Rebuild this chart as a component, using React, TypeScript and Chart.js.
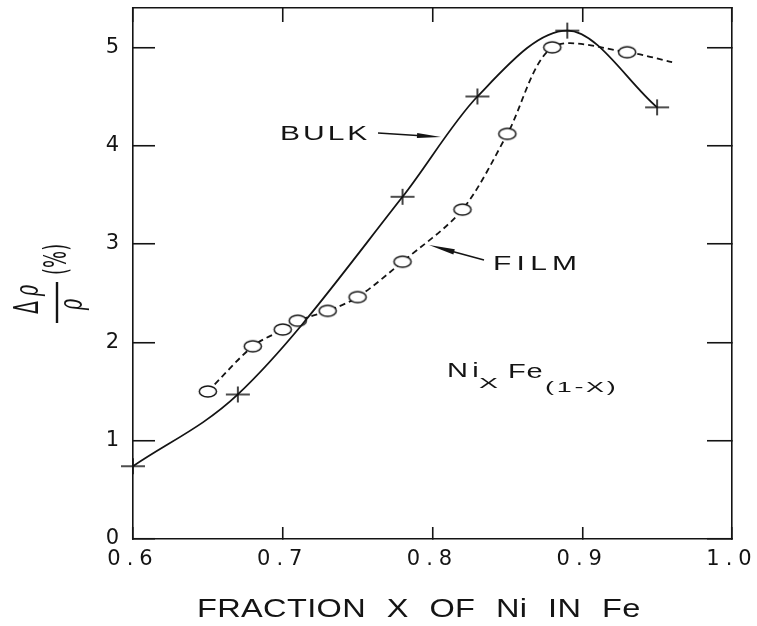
import { useEffect, useRef } from 'react';
import { Chart, registerables } from 'chart.js';

Chart.register(...registerables);

// Magnetoresistance of Ni(x)Fe(1-x): bulk samples vs. thin films
const BULK_X = [0.6, 0.67, 0.78, 0.83, 0.89, 0.95];
const BULK_Y = [0.74, 1.47, 3.48, 4.5, 5.17, 4.39];

const FILM_X = [0.65, 0.68, 0.7, 0.71, 0.73, 0.75, 0.78, 0.82, 0.85, 0.88, 0.93, 0.96];
const FILM_Y = [1.5, 1.96, 2.13, 2.22, 2.32, 2.46, 2.82, 3.35, 4.12, 5.0, 4.95, 4.85];
// the last film value is the end of the dashed trend line, without a marker
const FILM_MARKED = [true, true, true, true, true, true, true, true, true, true, true, false];

const X_TICKS = [0.6, 0.7, 0.8, 0.9, 1.0];
const X_TICK_LABELS = ['0.6', '0.7', '0.8', '0.9', '1.0'];
const Y_TICKS = [0, 1, 2, 3, 4, 5];
const Y_TICK_LABELS = ['0', '1', '2', '3', '4', '5'];

const X_MIN = 0.6;
const X_MAX = 1.0;
const Y_MIN = 0;
const Y_MAX = 5.4;

const INK = '#141414';
const SANS = '"Liberation Sans", Arial, sans-serif';

function makeCross(): HTMLCanvasElement {
  const c = document.createElement('canvas');
  c.width = 26;
  c.height = 18;
  const g = c.getContext('2d')!;
  g.strokeStyle = INK;
  g.lineWidth = 1.6;
  g.beginPath();
  g.moveTo(1, 9);
  g.lineTo(25, 9);
  g.moveTo(13, 1);
  g.lineTo(13, 17);
  g.stroke();
  return c;
}

function makeRing(): HTMLCanvasElement {
  const c = document.createElement('canvas');
  c.width = 22;
  c.height = 15;
  const g = c.getContext('2d')!;
  g.fillStyle = '#ffffff';
  g.strokeStyle = INK;
  g.lineWidth = 1.5;
  g.beginPath();
  g.ellipse(11, 7.5, 8.6, 5.6, 0, 0, Math.PI * 2);
  g.fill();
  g.stroke();
  return c;
}

function stretchText(
  ctx: CanvasRenderingContext2D,
  text: string,
  x: number,
  y: number,
  size: number,
  sx: number,
  spacing: number,
  wordSpacing = 0,
) {
  ctx.save();
  ctx.translate(x, y);
  ctx.scale(sx, 1);
  ctx.font = `${size}px ${SANS}`;
  (ctx as any).letterSpacing = `${spacing}px`;
  (ctx as any).wordSpacing = `${wordSpacing}px`;
  ctx.fillStyle = INK;
  ctx.textAlign = 'left';
  ctx.textBaseline = 'alphabetic';
  ctx.fillText(text, 0, 0);
  ctx.restore();
}

function arrow(
  ctx: CanvasRenderingContext2D,
  x1: number,
  y1: number,
  x2: number,
  y2: number,
  headLen: number,
  headHalf: number,
) {
  const a = Math.atan2(y2 - y1, x2 - x1);
  const c = Math.cos(a);
  const s = Math.sin(a);
  ctx.save();
  ctx.strokeStyle = INK;
  ctx.fillStyle = INK;
  ctx.lineWidth = 1.5;
  ctx.beginPath();
  ctx.moveTo(x1, y1);
  ctx.lineTo(x2 - c * headLen * 0.5, y2 - s * headLen * 0.5);
  ctx.stroke();
  ctx.beginPath();
  ctx.moveTo(x2, y2);
  ctx.lineTo(x2 - c * headLen - s * headHalf, y2 - s * headLen + c * headHalf);
  ctx.lineTo(x2 - c * headLen + s * headHalf, y2 - s * headLen - c * headHalf);
  ctx.closePath();
  ctx.fill();
  ctx.restore();
}

const figureInk = {
  id: 'figureInk',
  beforeDraw(chart: Chart) {
    // wide typewriter-like spacing for the tick numbers
    (chart.ctx as any).letterSpacing = '6px';
  },
  beforeDatasetsDraw(chart: Chart) {
    (chart.ctx as any).letterSpacing = '0px';
  },
  afterDraw(chart: Chart) {
    const ctx = chart.ctx;

    // y-axis title: Δρ/ρ (%) written sideways
    ctx.save();
    ctx.strokeStyle = INK;
    ctx.fillStyle = INK;
    ctx.lineWidth = 2.4;
    ctx.beginPath();
    ctx.moveTo(57, 282);
    ctx.lineTo(57, 323);
    ctx.stroke();
    ctx.translate(57, 302);
    ctx.rotate(-Math.PI / 2);
    ctx.scale(1, 1.8);
    ctx.textAlign = 'left';
    ctx.textBaseline = 'alphabetic';
    ctx.font = '19px "DejaVu Sans"';
    ctx.fillText('Δ', -12, -10.6);
    ctx.font = 'italic 19px "DejaVu Serif"';
    ctx.fillText('ρ', 6, -10.6);
    ctx.fillText('ρ', -8, 14);
    ctx.font = '18px "DejaVu Sans"';
    ctx.textBaseline = 'middle';
    ctx.fillText('(%)', 27, 0.5);
    ctx.restore();

    // x-axis title
    stretchText(ctx, 'FRACTION X OF Ni IN Fe', 197, 617, 26, 1.25, 0.3, 9);

    // curve labels
    stretchText(ctx, 'BULK', 280, 140, 20, 1.5, 2);
    arrow(ctx, 378, 133, 441, 137, 24, 2.6);

    stretchText(ctx, 'FILM', 493, 270, 20, 1.5, 3.5);
    arrow(ctx, 484, 260, 429, 245, 26, 2.8);

    // composition label Ni_X Fe_(1-X)
    stretchText(ctx, 'Ni', 447, 377, 20, 1.45, 3);
    stretchText(ctx, 'X', 479, 388, 15, 1.9, 0);
    stretchText(ctx, 'Fe', 508, 378, 20, 1.45, 0.5);
    stretchText(ctx, '(1-X)', 545, 392, 15, 1.8, 1.5);
  },
};

function fixBox(width?: number, height?: number) {
  return (s: any) => {
    if (width !== undefined) s.width = width;
    if (height !== undefined) s.height = height;
    s.paddingLeft = 0;
    s.paddingRight = 0;
    s.paddingTop = 0;
    s.paddingBottom = 0;
  };
}

const setTicks = (values: number[]) => (s: any) => {
  s.ticks = values.map((value) => ({ value }));
};

const frameGrid = (tickLength: number) => ({
  drawOnChartArea: false,
  drawTicks: true,
  tickLength,
  color: INK,
  lineWidth: 1.5,
  tickWidth: 1.6,
});

const frameBorder = { display: true, color: INK, width: 1.6 };

const tickFont = { family: '"DejaVu Sans", sans-serif', size: 21 };

export default function App() {
  const canvasRef = useRef<HTMLCanvasElement>(null);

  useEffect(() => {
    const cross = makeCross();
    const ring = makeRing();

    const chart = new Chart(canvasRef.current!, {
      type: 'line',
      data: {
        datasets: [
          {
            label: 'BULK',
            data: BULK_X.map((x, i) => ({ x, y: BULK_Y[i] })),
            borderColor: INK,
            borderWidth: 1.8,
            cubicInterpolationMode: 'monotone',
            fill: false,
            pointStyle: cross,
            pointRadius: 6,
            clip: false,
            xAxisID: 'x',
            yAxisID: 'y',
          },
          {
            label: 'FILM',
            data: FILM_X.map((x, i) => ({ x, y: FILM_Y[i] })),
            borderColor: INK,
            borderWidth: 1.8,
            borderDash: [6, 4],
            tension: 0.3,
            fill: false,
            pointStyle: ring,
            pointRadius: (c: any) => (FILM_MARKED[c.dataIndex] ? 6 : 0),
            clip: false,
            xAxisID: 'x',
            yAxisID: 'y',
          },
        ],
      },
      options: {
        animation: false,
        responsive: true,
        maintainAspectRatio: false,
        layout: { padding: 0 },
        plugins: {
          legend: { display: false },
          tooltip: { enabled: false },
          title: { display: false },
        },
        scales: {
          x: {
            type: 'linear',
            axis: 'x',
            position: 'bottom',
            min: X_MIN,
            max: X_MAX,
            afterBuildTicks: setTicks(X_TICKS),
            afterFit: fixBox(undefined, 87),
            ticks: {
              callback: (_v: any, i: number) => X_TICK_LABELS[i],
              font: tickFont,
              color: INK,
              padding: 20,
              autoSkip: false,
              maxRotation: 0,
            },
            grid: frameGrid(-12),
            border: frameBorder,
          },
          x2: {
            type: 'linear',
            axis: 'x',
            position: 'top',
            min: X_MIN,
            max: X_MAX,
            afterBuildTicks: setTicks(X_TICKS),
            afterFit: fixBox(undefined, 8),
            ticks: { display: false },
            grid: frameGrid(-14),
            border: frameBorder,
          },
          y: {
            type: 'linear',
            axis: 'y',
            position: 'left',
            min: Y_MIN,
            max: Y_MAX,
            afterBuildTicks: setTicks(Y_TICKS),
            afterFit: fixBox(133, undefined),
            ticks: {
              callback: (_v: any, i: number) => Y_TICK_LABELS[i],
              font: tickFont,
              color: INK,
              padding: 30,
            },
            grid: frameGrid(-22),
            border: frameBorder,
          },
          y2: {
            type: 'linear',
            axis: 'y',
            position: 'right',
            min: Y_MIN,
            max: Y_MAX,
            afterBuildTicks: setTicks(Y_TICKS),
            afterFit: fixBox(25, undefined),
            ticks: { display: false },
            grid: frameGrid(-25),
            border: frameBorder,
          },
        },
      } as any,
      plugins: [figureInk as any],
    });

    return () => chart.destroy();
  }, []);

  return (
    <div style={{ position: 'absolute', left: 0, top: 0, width: 757, height: 626, background: '#ffffff' }}>
      <canvas ref={canvasRef} />
    </div>
  );
}
